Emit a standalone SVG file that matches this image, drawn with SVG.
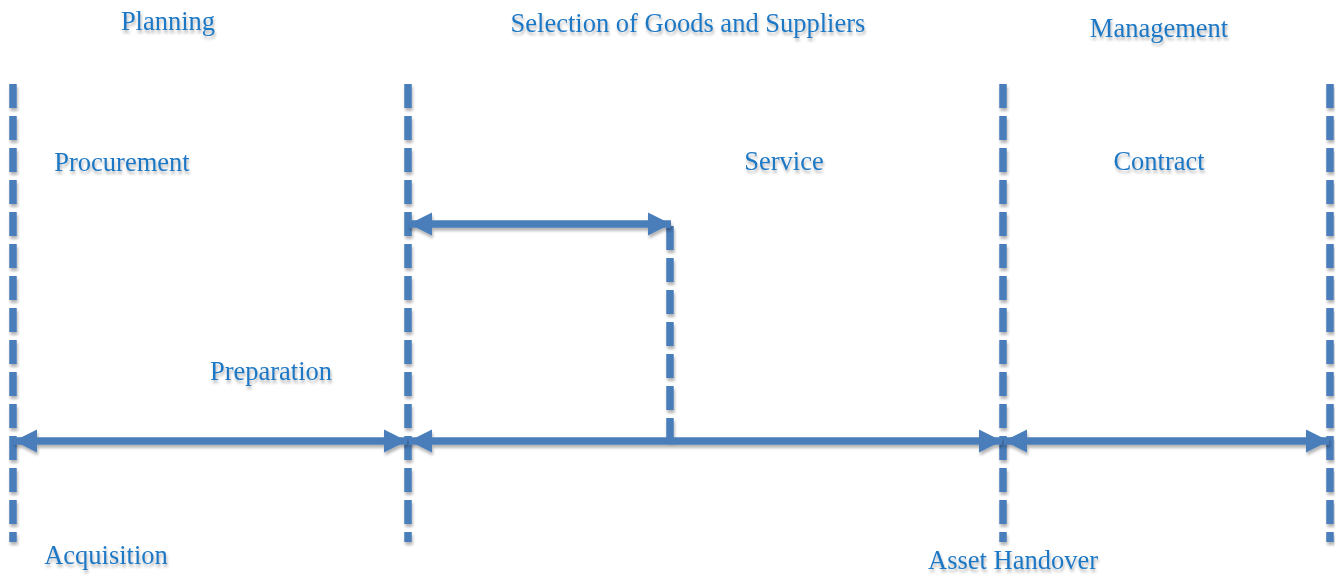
<svg xmlns="http://www.w3.org/2000/svg" width="1335" height="575" viewBox="0 0 1335 575">
  <style>
    .lbl { font-family: "Liberation Serif", "Times New Roman", serif; font-size: 26.5px; fill: #1f78c4; filter: url(#txtShadow); }
    .dash { stroke: #4a7ebb; stroke-width: 7.5; fill: none; stroke-dasharray: 24 8; }
    .arrow { stroke: #4a7ebb; stroke-width: 7.5; fill: none; marker-start: url(#headStart); marker-end: url(#headEnd); }
    .shadowed { filter: url(#lineShadow); }
  </style>
  <defs>
    <filter id="lineShadow" filterUnits="userSpaceOnUse" x="0" y="0" width="1335" height="575">
      <feGaussianBlur in="SourceAlpha" stdDeviation="1.5"/>
      <feOffset dx="1" dy="3"/>
      <feComponentTransfer><feFuncA type="linear" slope="0.3"/></feComponentTransfer>
      <feMerge><feMergeNode/><feMergeNode in="SourceGraphic"/></feMerge>
    </filter>
    <filter id="txtShadow" x="-10%" y="-30%" width="120%" height="160%">
      <feGaussianBlur in="SourceAlpha" stdDeviation="1.8"/>
      <feOffset dx="1" dy="3"/>
      <feComponentTransfer><feFuncA type="linear" slope="0.3"/></feComponentTransfer>
      <feMerge><feMergeNode/><feMergeNode in="SourceGraphic"/></feMerge>
    </filter>
    <marker id="headEnd" markerUnits="userSpaceOnUse" markerWidth="26" markerHeight="26" refX="23" refY="13" orient="auto">
      <path d="M0,1.5 L23,13 L0,24.5 Z" fill="#4a7ebb"/>
    </marker>
    <marker id="headStart" markerUnits="userSpaceOnUse" markerWidth="26" markerHeight="26" refX="3" refY="13" orient="auto">
      <path d="M26,1.5 L3,13 L26,24.5 Z" fill="#4a7ebb"/>
    </marker>
  </defs>

  <!-- phase boundaries -->
  <g id="boundaries" class="shadowed">
    <line class="dash" x1="13" y1="84" x2="13" y2="542"/>
    <line class="dash" x1="408" y1="84" x2="408" y2="542"/>
    <line class="dash" x1="1003" y1="84" x2="1003" y2="542"/>
    <line class="dash" x1="1330" y1="84" x2="1330" y2="542"/>
    <line class="dash" x1="670" y1="226" x2="670" y2="441"/>
  </g>

  <!-- span arrows -->
  <g id="connectors" class="shadowed">
    <line class="arrow" x1="14" y1="441" x2="407" y2="441"/>
    <line class="arrow" x1="409" y1="441" x2="1002" y2="441"/>
    <line class="arrow" x1="1004" y1="441" x2="1329" y2="441"/>
    <line class="arrow" x1="409" y1="224" x2="671" y2="224"/>
  </g>

  <g id="planning"><text class="lbl" x="168" y="30" text-anchor="middle">Planning</text></g>
  <g id="selection"><text class="lbl" x="688" y="32" text-anchor="middle">Selection of Goods and Suppliers</text></g>
  <g id="management"><text class="lbl" x="1159" y="37" text-anchor="middle">Management</text></g>
  <g id="procurement"><text class="lbl" x="122" y="171" text-anchor="middle">Procurement</text></g>
  <g id="service"><text class="lbl" x="784" y="170" text-anchor="middle">Service</text></g>
  <g id="contract"><text class="lbl" x="1159" y="170" text-anchor="middle">Contract</text></g>
  <g id="preparation"><text class="lbl" x="271" y="380" text-anchor="middle">Preparation</text></g>
  <g id="acquisition"><text class="lbl" x="106" y="564" text-anchor="middle">Acquisition</text></g>
  <g id="handover"><text class="lbl" x="1013" y="569" text-anchor="middle">Asset Handover</text></g>
</svg>
